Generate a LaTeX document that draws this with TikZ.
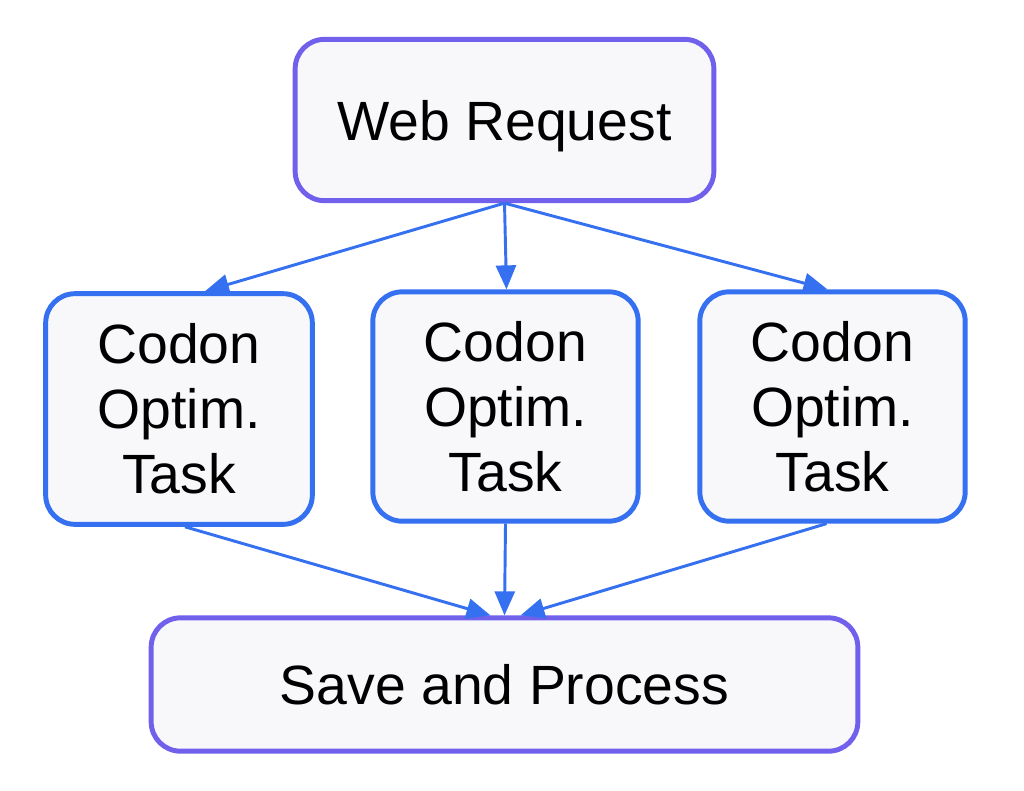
\documentclass[tikz,border=0pt]{standalone}
\usepackage{fontspec}
\setmainfont{Liberation Sans}
\usetikzlibrary{arrows.meta,calc}
\definecolor{purpleline}{RGB}{112,96,236}
\definecolor{blueline}{RGB}{52,112,240}
\definecolor{boxfill}{RGB}{248,248,251}
\tikzset{
  box/.style={draw, fill=boxfill, rounded corners=22pt, line width=3.7pt,
    align=center, inner sep=0pt, font=\fontsize{41.5}{48.75}\selectfont},
  outerbox/.style={box, draw=purpleline},
  taskbox/.style={box, draw=blueline},
  arr/.style={draw=blueline, line width=2.2pt,
    -{Triangle[length=18pt,width=15pt]}},
}
\begin{document}
\begin{tikzpicture}[x=0.75pt,y=-0.75pt]
\path[use as bounding box, fill=white] (0,0) rectangle (1024,790);
\node[outerbox, minimum width=314pt, minimum height=121pt, text depth=0pt] (web) at (504.5,120) {Web Request};
\node[taskbox, minimum width=200pt, minimum height=173pt] (c1) at (179,409) {Codon\\Optim.\\Task};
\node[taskbox, minimum width=199pt, minimum height=172pt] (c2) at (505.5,406.5) {Codon\\Optim.\\Task};
\node[taskbox, minimum width=199pt, minimum height=172pt] (c3) at (832.5,406.5) {Codon\\Optim.\\Task};
\node[outerbox, minimum width=530pt, minimum height=100pt] (save) at (504.5,684.5) {Save and Process};
\draw[arr] (web.south) -- ($(c1.north)+(26,0)$);
\draw[arr] (web.south) -- ($(c2.north)+(1,0)$);
\draw[arr] (web.south) -- ($(c3.north)+(-5,0)$);
\draw[arr] ($(c1.south)+(6,0)$) -- ($(save.north)+(-14,0)$);
\draw[arr] (c2.south) -- ($(save.north)+(0,0)$);
\draw[arr] ($(c3.south)+(-6,0)$) -- ($(save.north)+(16,0)$);
\end{tikzpicture}
\end{document}
